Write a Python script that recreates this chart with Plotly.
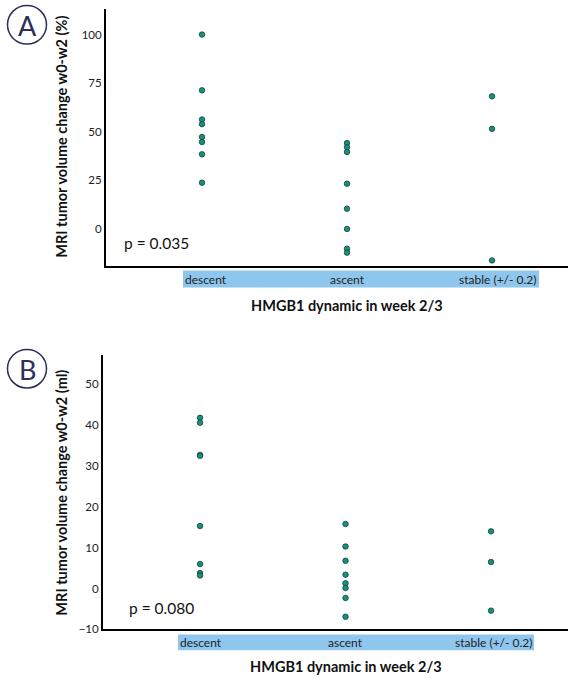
import plotly.graph_objects as go

W, H = 569, 684

categories = ["descent", "ascent", "stable (+/- 0.2)"]

# Panel A: MRI tumor volume change w0-w2 (%)
a_descent = [100, 71.3, 56.3, 53.9, 47.3, 44.7, 38.4, 23.8]
a_ascent = [44.2, 42.0, 39.6, 23.3, 10.4, 0.0, -10.2, -12.2]
a_stable = [68.2, 51.5, -16.2]
a_ticks = [0, 25, 50, 75, 100]

# Panel B: MRI tumor volume change w0-w2 (ml)
b_descent = [41.8, 40.6, 32.7, 32.5, 15.3, 6.0, 3.8, 3.2]
b_ascent = [15.8, 10.3, 6.8, 3.4, 1.3, 0.15, -2.3, -6.9]
b_stable = [14.0, 6.5, -5.4]
b_ticks = [-10, 0, 10, 20, 30, 40, 50]

FONT = "Lato"
fill = "#17907c"
edge = "#15413a"

fig = go.Figure()

def add_group(vals_list, xa, ya):
    for i, vals in enumerate(vals_list):
        fig.add_trace(go.Scatter(
            x=[i] * len(vals), y=vals, mode="markers",
            marker=dict(size=5.5, color=fill, line=dict(color=edge, width=0.8)),
            xaxis=xa, yaxis=ya, showlegend=False, hoverinfo="y"))

add_group([a_descent, a_ascent, a_stable], "x", "y")
add_group([b_descent, b_ascent, b_stable], "x2", "y2")

def px(v):
    return v / W
def py(v):
    return 1 - v / H

axis_common = dict(showgrid=False, zeroline=False, showline=True,
                   linecolor="black", linewidth=2, ticks="")

fig.update_layout(
    width=W, height=H, margin=dict(l=0, r=0, t=0, b=0),
    paper_bgcolor="white", plot_bgcolor="white",
    font=dict(family=FONT, color="#222"),
    xaxis=dict(domain=[px(106), px(568)], range=[-0.662, 2.524],
               showticklabels=False, anchor="y", **axis_common),
    yaxis=dict(domain=[py(268), py(9)], range=[-18.9, 113.2],
               tickvals=a_ticks, tickfont=dict(size=11.5, family=FONT),
               anchor="x", **axis_common),
    xaxis2=dict(domain=[px(103), px(568)], range=[-0.667, 2.529],
                showticklabels=False, anchor="y2", **axis_common),
    yaxis2=dict(domain=[py(635), py(358)], range=[-10, 57.2],
                tickvals=b_ticks, tickfont=dict(size=11.5, family=FONT),
                anchor="x2", **axis_common),
)

shapes = []
annotations = []

def panel_decor(xref, yband, letter_cy, ytitle, ytitle_x, ytitle_cy,
                xtitle_y, ptext, p_x, p_y, band_l, band_r):
    shapes.append(dict(type="rect", xref=xref, yref="paper",
                       xsizemode="pixel", xanchor=0, x0=band_l, x1=band_r,
                       y0=py(yband[1]), y1=py(yband[0]),
                       fillcolor="#8fc6ee", line=dict(width=0), layer="below"))
    ymid = py((yband[0] + yband[1]) / 2)
    cat_font = dict(size=12, family=FONT, color="#222")
    annotations.append(dict(text=categories[0], x=0, xref=xref, y=ymid, yref="paper",
                            xanchor="left", xshift=band_l, yanchor="middle",
                            showarrow=False, font=cat_font))
    annotations.append(dict(text=categories[1], x=1, xref=xref, y=ymid, yref="paper",
                            xanchor="center", yanchor="middle",
                            showarrow=False, font=cat_font))
    annotations.append(dict(text=categories[2], x=2, xref=xref, y=ymid, yref="paper",
                            xanchor="right", xshift=band_r - 290, yanchor="middle",
                            showarrow=False, font=cat_font))
    annotations.append(dict(text="<b>HMGB1 dynamic in week 2/3</b>", x=1, xref=xref,
                            y=py(xtitle_y), yref="paper", yanchor="middle",
                            showarrow=False, font=dict(size=14.5, family=FONT, color="#111")))
    annotations.append(dict(text="<b>" + ytitle + "</b>", x=px(ytitle_x), xref="paper",
                            y=py(ytitle_cy), yref="paper", textangle=-90,
                            xanchor="center", yanchor="middle",
                            showarrow=False, font=dict(size=14.5, family=FONT, color="#111")))
    annotations.append(dict(text=ptext, x=px(p_x), xref="paper", y=py(p_y), yref="paper",
                            xanchor="left", yanchor="middle", showarrow=False,
                            font=dict(size=15.5, family=FONT, color="#111")))
    r = 19.5
    shapes.append(dict(type="circle", xref="paper", yref="paper",
                       x0=px(27 - r), x1=px(27 + r), y0=py(letter_cy + r), y1=py(letter_cy - r),
                       line=dict(color="#2b2f5c", width=1.5)))

panel_decor("x", (273, 290), 25, "MRI tumor volume change w0-w2 (%)", 62, 138,
            308, "p = 0.035", 122, 245, -19, 337)
annotations.append(dict(text="A", x=px(27), y=py(26), xref="paper", yref="paper",
                        showarrow=False, xanchor="center", yanchor="middle",
                        font=dict(size=27, family=FONT, color="#2b2f5c")))
panel_decor("x2", (640, 656), 372, "MRI tumor volume change w0-w2 (ml)", 62, 497,
            672, "p = 0.080", 127, 613, -22, 334)
annotations.append(dict(text="B", x=px(27), y=py(373), xref="paper", yref="paper",
                        showarrow=False, xanchor="center", yanchor="middle",
                        font=dict(size=27, family=FONT, color="#2b2f5c")))

fig.update_layout(shapes=shapes, annotations=annotations)
fig.write_html("out.html", config={"displayModeBar": False},
               post_script="document.body.style.margin='0';document.body.style.overflow='hidden';")
